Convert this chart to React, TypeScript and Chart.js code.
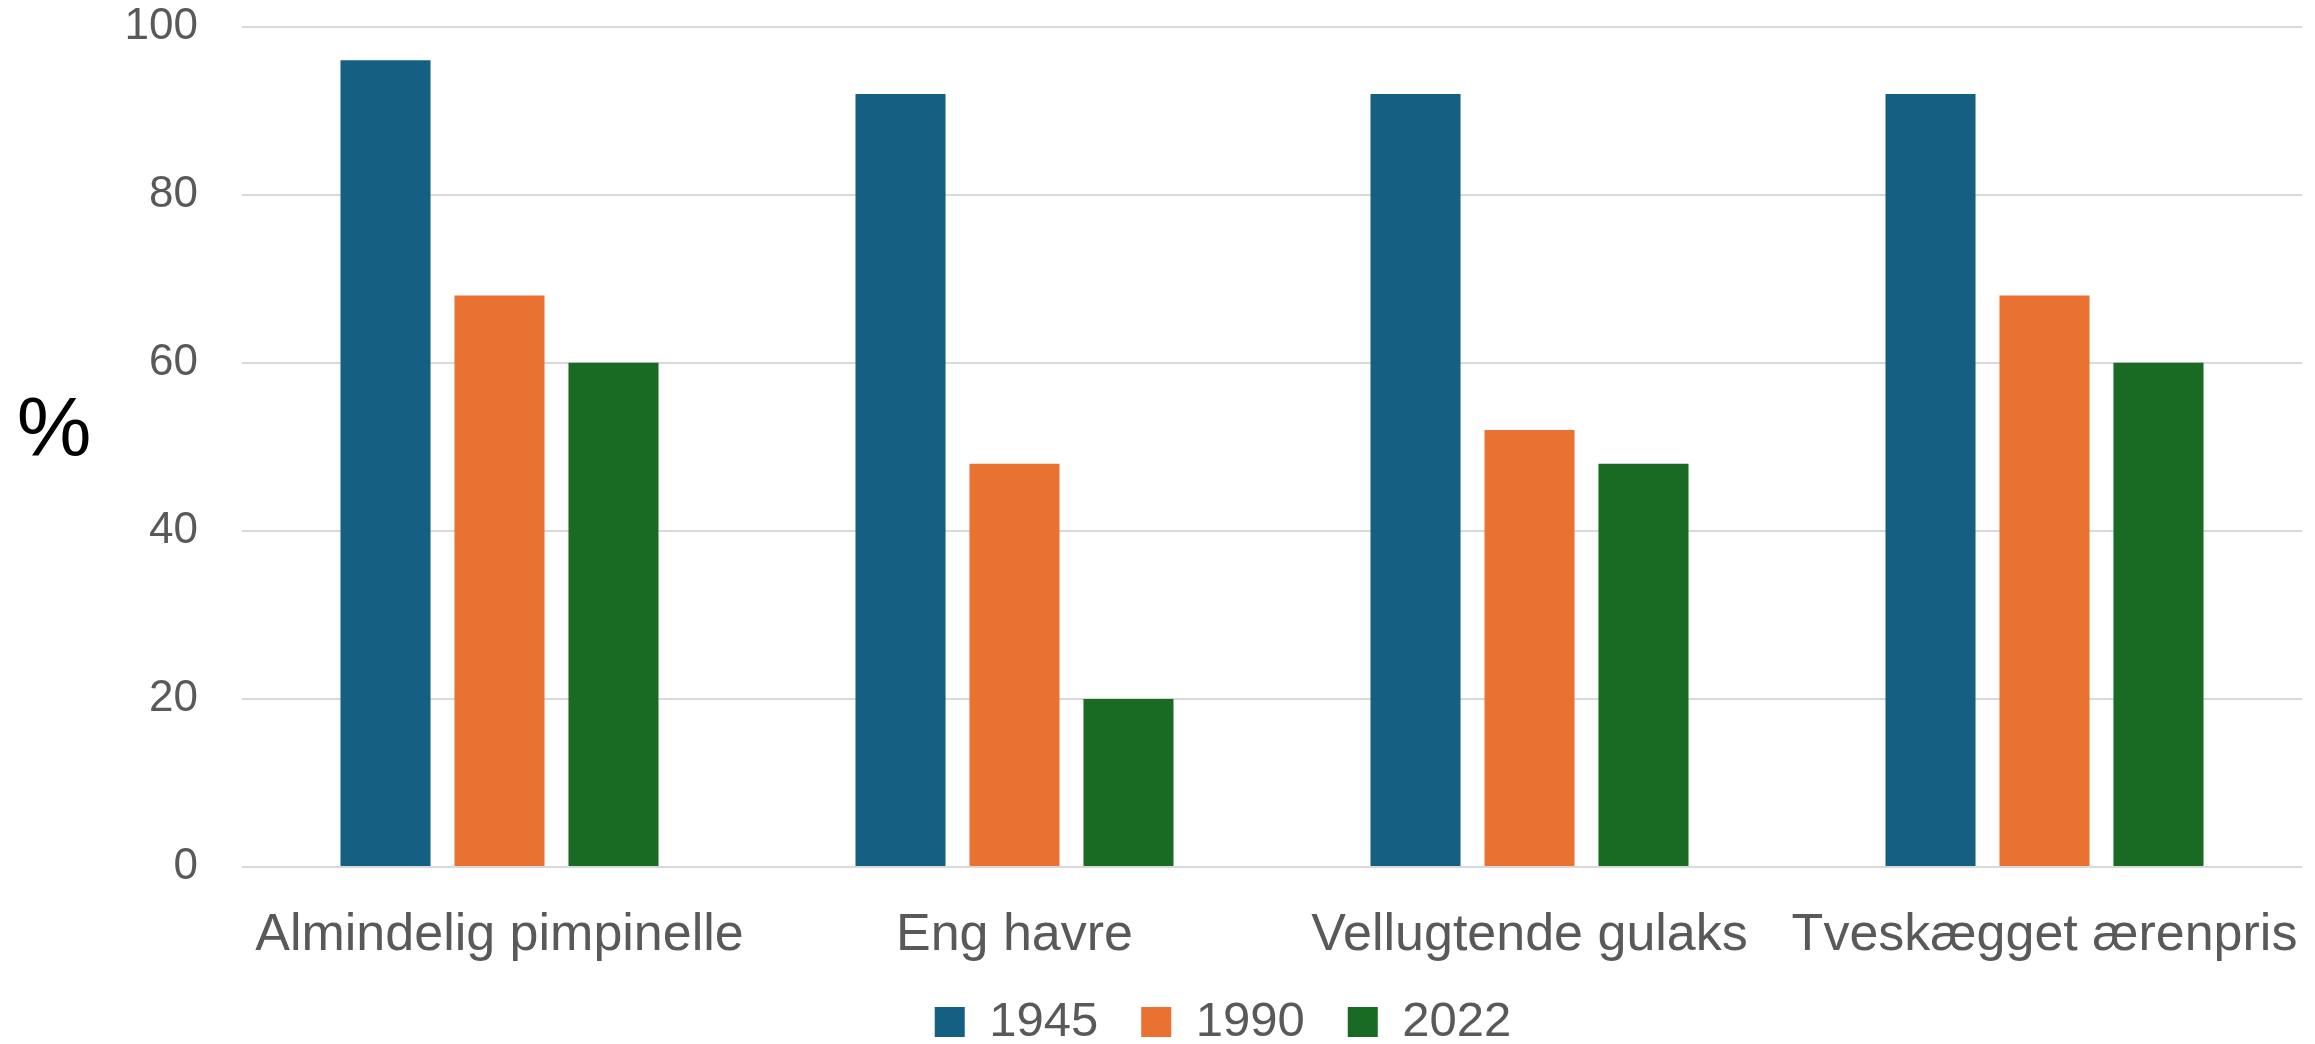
import React, { useEffect, useRef } from "react";
import { Chart, registerables } from "chart.js";

Chart.register(...registerables);

const categories = [
  "Almindelig pimpinelle",
  "Eng havre",
  "Vellugtende gulaks",
  "Tveskægget ærenpris",
];
const seriesNames = ["1945", "1990", "2022"];
const values1945 = [96, 92, 92, 92];
const values1990 = [68, 48, 52, 68];
const values2022 = [60, 20, 48, 60];
const seriesColors = ["#156082", "#E97132", "#196B24"];
const yTicks = [0, 20, 40, 60, 80, 100];
const yAxisLabel = "%";

const FONT = "'Liberation Sans', Arial, sans-serif";
const TEXT = "#595959";
const CLEAR = "rgba(0,0,0,0)";

const percentPlugin = {
  id: "percentLabel",
  afterLayout(chart: any) {
    const lg = chart.legend;
    if (lg) {
      const dy = 954.5 - lg.top;
      lg.top += dy;
      lg.bottom += dy;
      const dx = 1223 - (lg.left + lg.right) / 2;
      lg.left += dx;
      lg.right += dx;
    }
  },
  afterDraw(chart: any) {
    const ctx = chart.ctx;
    ctx.save();
    ctx.font = `84px ${FONT}`;
    ctx.fillStyle = "#000000";
    ctx.textAlign = "center";
    ctx.textBaseline = "middle";
    ctx.fillText(yAxisLabel, 54, 433);
    ctx.restore();
  },
};

export default function App() {
  const ref = useRef<HTMLCanvasElement | null>(null);
  useEffect(() => {
    if (!ref.current) return;
    const allValues = [values1945, values1990, values2022];
    const chart = new Chart(ref.current, {
      type: "bar",
      data: {
        labels: categories,
        datasets: seriesNames.map((name, i) => ({
          label: name,
          data: allValues[i],
          backgroundColor: seriesColors[i],
          borderWidth: 0,
          categoryPercentage: 0.664,
          barPercentage: 0.79,
        })),
      },
      options: {
        animation: false,
        responsive: true,
        maintainAspectRatio: false,
        layout: { padding: { left: 0, right: 13, top: 26.7, bottom: -55 } },
        plugins: {
          tooltip: { enabled: false },
          legend: {
            position: "bottom",
            labels: {
              color: TEXT,
              font: { family: FONT, size: 49 },
              boxWidth: 30,
              boxHeight: 30,
              padding: 43,
            },
          },
        },
        scales: {
          x: {
            grid: {
              display: true,
              drawOnChartArea: false,
              color: CLEAR,
              tickColor: CLEAR,
              drawTicks: true,
              tickLength: 37,
            },
            border: { display: false },
            ticks: {
              color: TEXT,
              font: { family: FONT, size: 52 },
              padding: 0,
              maxRotation: 0,
              autoSkip: false,
            },
            afterFit: (scale: any) => {
              scale.height = 130;
            },
          },
          y: {
            min: 0,
            max: 100,
            afterBuildTicks: (scale: any) => {
              scale.ticks = yTicks.map((v) => ({ value: v }));
            },
            grid: {
              color: "#D9D9D9",
              lineWidth: 2,
              drawTicks: true,
              tickLength: 44,
              tickColor: CLEAR,
            },
            border: { display: false },
            ticks: {
              color: TEXT,
              font: { family: FONT, size: 44 },
              padding: 0,
            },
            afterFit: (scale: any) => {
              scale.width = 242;
            },
          },
        },
      },
      plugins: [percentPlugin],
    });
    return () => chart.destroy();
  }, []);
  return (
    <div
      style={{
        position: "fixed",
        left: 0,
        top: 0,
        width: "2315px",
        height: "1044px",
        background: "#ffffff",
      }}
    >
      <canvas ref={ref} />
    </div>
  );
}
